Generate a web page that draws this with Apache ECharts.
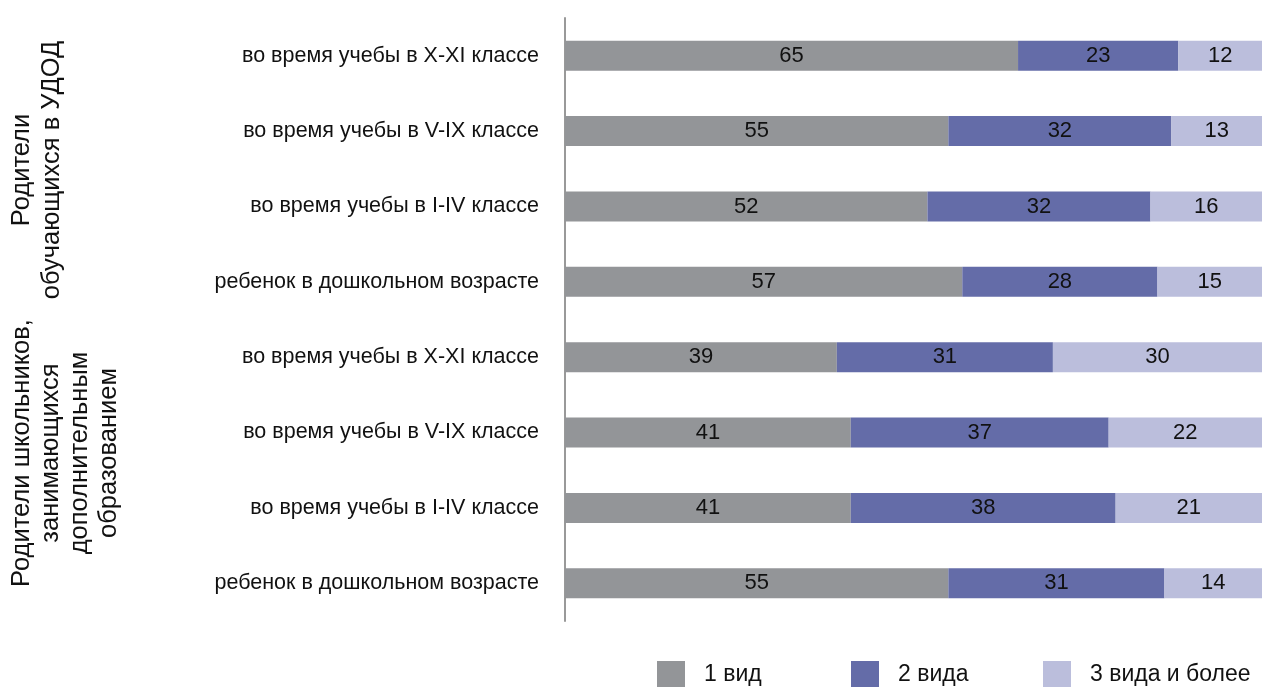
<!DOCTYPE html>
<html>
<head>
<meta charset="utf-8">
<script src="https://cdn.jsdelivr.net/npm/echarts@6/dist/echarts.min.js"></script>
<style>
html,body{margin:0;padding:0;background:#fff;}
#chart{width:1262px;height:687px;}
</style>
</head>
<body>
<div id="chart"></div>
<script>
var categories = [
  "во время учебы в X-XI классе",
  "во время учебы в V-IX классе",
  "во время учебы в I-IV классе",
  "ребенок в дошкольном возрасте",
  "во время учебы в X-XI классе",
  "во время учебы в V-IX классе",
  "во время учебы в I-IV классе",
  "ребенок в дошкольном возрасте"
];
var seriesNames = ["1 вид", "2 вида", "3 вида и более"];
var oneKind = [65, 55, 52, 57, 39, 41, 41, 55];
var twoKinds = [23, 32, 32, 28, 31, 37, 38, 31];
var threeKinds = [12, 13, 16, 15, 30, 22, 21, 14];
var groupLabels = ["Родители\nобучающихся в УДОД", "Родители школьников,\nзанимающихся\nдополнительным\nобразованием"];

var colors = ["#939598", "#646ca8", "#bbbedc"];
var FONT = "Liberation Sans, Arial, Helvetica, sans-serif";

var chart = echarts.init(document.getElementById('chart'));
function mk(name, data, color) {
  return {
    name: name,
    type: 'bar',
    stack: 'total',
    data: data,
    barWidth: 30,
    itemStyle: {color: color},
    label: {
      show: true,
      position: 'inside',
      color: '#111',
      fontSize: 22,
      fontFamily: FONT
    },
    emphasis: {disabled: true}
  };
}
function lg(name, left) {
  return {
    data: [name],
    top: 661,
    left: left,
    padding: 0,
    itemWidth: 28,
    itemHeight: 28,
    icon: 'rect',
    selectedMode: false,
    textStyle: {color: '#111', fontSize: 23, fontFamily: FONT, padding: [0, 0, 0, 14]}
  };
}
chart.setOption({
  animation: false,
  textStyle: {fontFamily: FONT},
  grid: {left: 565, right: 0, top: 18, bottom: 66, containLabel: false},
  xAxis: {
    type: 'value', min: 0, max: 100, show: false
  },
  yAxis: {
    type: 'category',
    data: categories,
    inverse: true,
    axisLine: {show: true, lineStyle: {color: '#999', width: 2}},
    axisTick: {show: false},
    axisLabel: {color: '#111', fontSize: 21.5, margin: 26, fontFamily: FONT}
  },
  legend: [lg(seriesNames[0], 657), lg(seriesNames[1], 851), lg(seriesNames[2], 1043)],
  graphic: [
    {
      type: 'text', x: 37, y: 170, rotation: Math.PI / 2,
      style: {text: groupLabels[0], fontSize: 25.5, fontFamily: FONT, fill: '#111',
        align: 'center', verticalAlign: 'middle', lineHeight: 30}
    },
    {
      type: 'text', x: 65, y: 453, rotation: Math.PI / 2,
      style: {text: groupLabels[1], fontSize: 25.5, fontFamily: FONT, fill: '#111',
        align: 'center', verticalAlign: 'middle', lineHeight: 29}
    }
  ],
  series: [
    mk(seriesNames[0], oneKind, colors[0]),
    mk(seriesNames[1], twoKinds, colors[1]),
    mk(seriesNames[2], threeKinds, colors[2])
  ]
});
</script>
</body>
</html>
